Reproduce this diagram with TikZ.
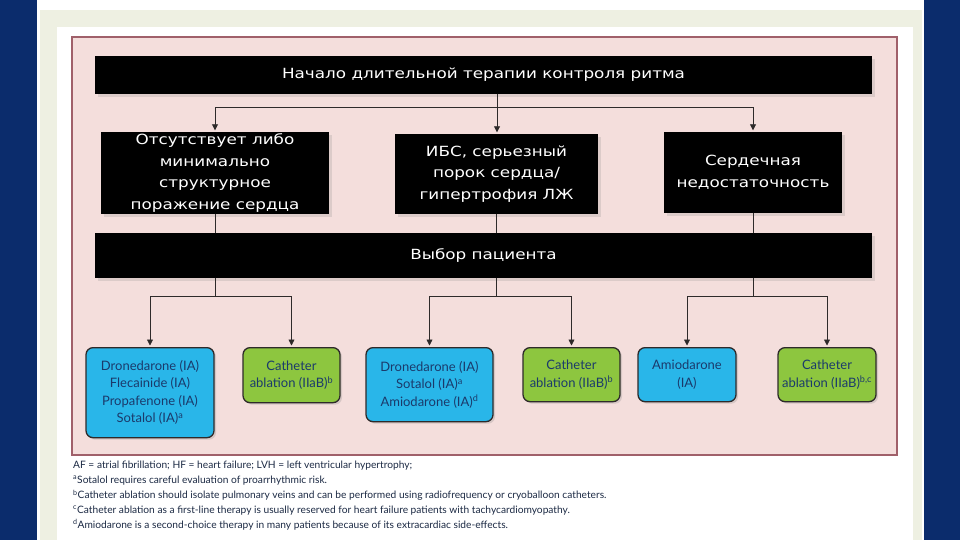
\documentclass[tikz,border=0pt]{standalone}
\usepackage{fontspec}
\setmainfont{Lato}
\newfontfamily\gothic[FakeStretch=1.2]{DejaVu Sans}
\usetikzlibrary{arrows.meta,positioning,shadows,calc}
\definecolor{fondo}{HTML}{0B2C6C}
\definecolor{marco}{HTML}{EEF0E2}
\definecolor{rosa}{HTML}{F4DEDC}
\definecolor{borde}{HTML}{A0606A}
\definecolor{celeste}{HTML}{29B6E9}
\definecolor{verde}{HTML}{8DC63F}
\definecolor{tinta}{HTML}{1B3A6B}
\definecolor{linea}{HTML}{2E2A2A}
\definecolor{nota}{HTML}{1C2A44}

\begin{document}
\begin{tikzpicture}[x=1pt,y=-1pt,>={Triangle[length=6pt,width=6pt]},line cap=round,
    caja/.style={fill=black,text=white,align=center,inner sep=0pt,
      font=\gothic\fontsize{14}{21.5}\selectfont,
      drop shadow={opacity=0.2,shadow xshift=3pt,shadow yshift=-3pt}},
    barra/.style={caja,minimum width=777pt},
    farmaco/.style={draw=linea,line width=1.3pt,rounded corners=7pt,fill=celeste,
      text=tinta,align=center,inner sep=0pt,anchor=north,
      font=\fontsize{13}{17.5}\selectfont,
      drop shadow={opacity=0.25,shadow xshift=2pt,shadow yshift=-2pt}},
    ablacion/.style={farmaco,fill=verde},
    tramo/.style={linea,line width=0.8pt},
    flecha/.style={tramo,->,shorten >=1.5pt},
    nota/.style={anchor=west,inner sep=0pt,text=nota,font=\fontsize{10.2}{12}\selectfont}]
  \useasboundingbox (0,0) rectangle (960,540);
  % fondo y marcos
  \fill[fondo] (0,0) rectangle (960,540);
  \fill[white] (37,0) rectangle (924,540);
  \fill[marco] (40,10) rectangle (922,540);
  \fill[white] (57,27) rectangle (913,540);
  \filldraw[fill=rosa,draw=borde,line width=1.5pt] (72,37) rectangle (897,455);

  % cajas negras
  \node[barra,minimum height=38pt] (inicio) at (483.5,75) {Начало длительной терапии контроля ритма};
  \node[caja,minimum width=228pt,minimum height=82pt] (sano) at (215,173)
       {Отсутствует либо\\минимально\\структурное\\поражение сердца};
  \node[caja,minimum width=203pt,minimum height=80pt] (ibs) at (496.5,174)
       {ИБС, серьезный\\порок сердца/\\гипертрофия ЛЖ};
  \node[caja,minimum width=178pt,minimum height=81pt] (ic) at (753,172.5)
       {Сердечная\\недостаточность};
  \node[barra,minimum height=45pt] (eleccion) at (483.5,255.5) {Выбор пациента};

  % tratamientos
  \node[farmaco,minimum width=128pt,minimum height=90pt] (dro1) at (150,347)
       {Dronedarone (IA)\\Flecainide (IA)\\Propafenone (IA)\\Sotalol (IA)\textsuperscript{a}};
  \node[ablacion,minimum width=97pt,minimum height=55pt] (abl1) at (291.5,347)
       {Catheter\\ablation (IIaB)\textsuperscript{b}};
  \node[farmaco,minimum width=127pt,minimum height=74pt] (dro2) at (429.5,347)
       {Dronedarone (IA)\\Sotalol (IA)\textsuperscript{a}\\Amiodarone (IA)\textsuperscript{d}};
  \node[ablacion,minimum width=97pt,minimum height=54pt] (abl2) at (571.5,347)
       {Catheter\\ablation (IIaB)\textsuperscript{b}};
  \node[farmaco,minimum width=98pt,minimum height=54pt] (amio) at (687,347)
       {Amiodarone\\(IA)};
  \node[ablacion,minimum width=98pt,minimum height=54pt] (abl3) at (827,347)
       {Catheter\\ablation (IIaB)\textsuperscript{b,c}};

  % conectores
  \coordinate (r0) at (497,107);
  \draw[tramo] (inicio.south -| r0) -- (r0);
  \draw[flecha] (r0) -| (sano.north);
  \draw[flecha] (r0) -- (r0 |- ibs.north);
  \draw[flecha] (r0) -| (ic.north);
  \foreach \c in {sano,ibs,ic}
    \draw[tramo] (\c.south) -- (\c.south |- eleccion.north);
  \coordinate (r1) at (sano.south |- 0,296);
  \coordinate (r2) at (ibs.south |- 0,296);
  \coordinate (r3) at (ic.south |- 0,296);
  \foreach \r/\a/\b in {r1/dro1/abl1,r2/dro2/abl2,r3/amio/abl3}{
    \draw[tramo] (\r |- eleccion.south) -- (\r);
    \draw[flecha] (\r) -| (\a.north);
    \draw[flecha] (\r) -| (\b.north);
  }

  % notas
  \foreach \t [count=\i] in {
      {AF = atrial fibrillation; HF = heart failure; LVH = left ventricular hypertrophy;},
      {\textsuperscript{a}Sotalol requires careful evaluation of proarrhythmic risk.},
      {\textsuperscript{b}Catheter ablation should isolate pulmonary veins and can be performed using radiofrequency or cryoballoon catheters.},
      {\textsuperscript{c}Catheter ablation as a first-line therapy is usually reserved for heart failure patients with tachycardiomyopathy.},
      {\textsuperscript{d}Amiodarone is a second-choice therapy in many patients because of its extracardiac side-effects.}}
    \node[nota] (nota\i) at (73,451+14.8*\i) {\t};
\end{tikzpicture}
\end{document}
